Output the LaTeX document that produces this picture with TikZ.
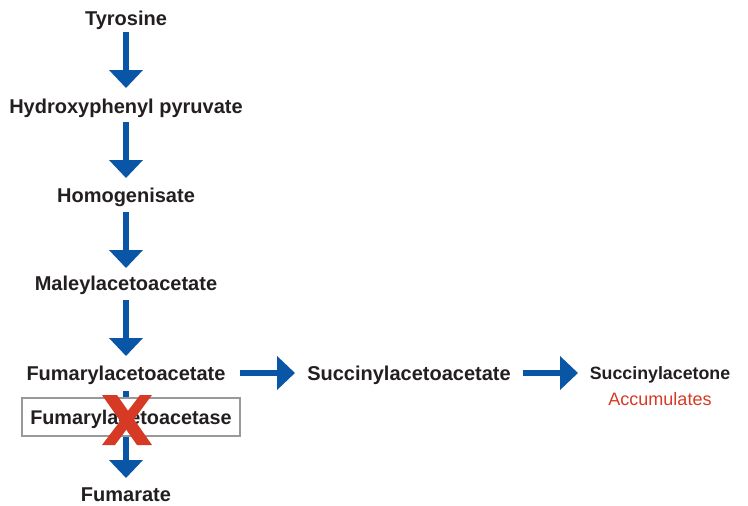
\documentclass[tikz,border=0pt]{standalone}
\usepackage{fontspec}
\setmainfont{Liberation Sans}
\usetikzlibrary{arrows.meta}
\definecolor{arrblue}{HTML}{0A56A6}
\definecolor{xred}{HTML}{D63A24}
\definecolor{txt}{HTML}{231F20}
\tikzset{
  lbl/.style={font=\fontsize{20}{22}\selectfont\bfseries, text=txt, inner sep=0pt, text height=14pt, text depth=0pt},
  smlbl/.style={lbl, font=\fontsize{17.8}{20}\selectfont\bfseries, text height=13pt},
  arr/.style={draw=arrblue, line width=6.5pt, -{Triangle[width=33pt,length=18pt]}, arrblue},
  enzbox/.style={draw=gray!80, line width=1.5pt, fill=white, minimum width=218pt, minimum height=38pt, inner sep=0pt, text height=14pt, text depth=0pt, font=\fontsize{19.8}{22}\selectfont\bfseries, text=txt},
  note/.style={font=\fontsize{18}{20}\selectfont, text=xred, inner sep=0pt, text height=13pt, text depth=0pt},
  cross/.style={fill=xred}
}
\begin{document}
\begin{tikzpicture}[x=1pt,y=1pt]
\useasboundingbox (0,0) rectangle (748,-506);
\node[lbl] (tyr) at (126,-18) {Tyrosine};
\node[lbl] (hpp) at (126,-106) {Hydroxyphenyl pyruvate};
\node[lbl] (hom) at (126,-195) {Homogenisate};
\node[lbl] (mal) at (126,-283) {Maleylacetoacetate};
\node[lbl] (fum) at (126,-373) {Fumarylacetoacetate};
\node[lbl] (sucaa) at (409,-373) {Succinylacetoacetate};
\node[smlbl] (suc) at (660,-373) {Succinylacetone};
\node[note] (acc) at (660,-399) {Accumulates};
\node[lbl] (fumr) at (126,-494) {Fumarate};

\draw[arr, shorten <=14pt, shorten >=18pt] (tyr.center) -- (hpp.center);
\draw[arr, shorten <=16pt, shorten >=17pt] (hpp.center) -- (hom.center);
\draw[arr, shorten <=17pt, shorten >=15pt] (hom.center) -- (mal.center);
\draw[arr, shorten <=17pt, shorten >=17pt] (mal.center) -- (fum.center);
\draw[arr, shorten <=18pt, shorten >=16pt] (fum.center) -- (fumr.center);
\draw[arr, shorten <=114pt, shorten >=114pt] (fum.center) -- (sucaa.center);
\draw[arr, shorten <=114pt, shorten >=82pt] (sucaa.center) -- (suc.center);

\node[enzbox] (enz) at (131,-417) {Fumarylacetoacetase};
\fill[cross] (102,-395) -- (117,-395) -- (152,-445) -- (137,-445) -- cycle;
\fill[cross] (140,-395) -- (152,-395) -- (115,-445) -- (102,-445) -- cycle;
\end{tikzpicture}
\end{document}
